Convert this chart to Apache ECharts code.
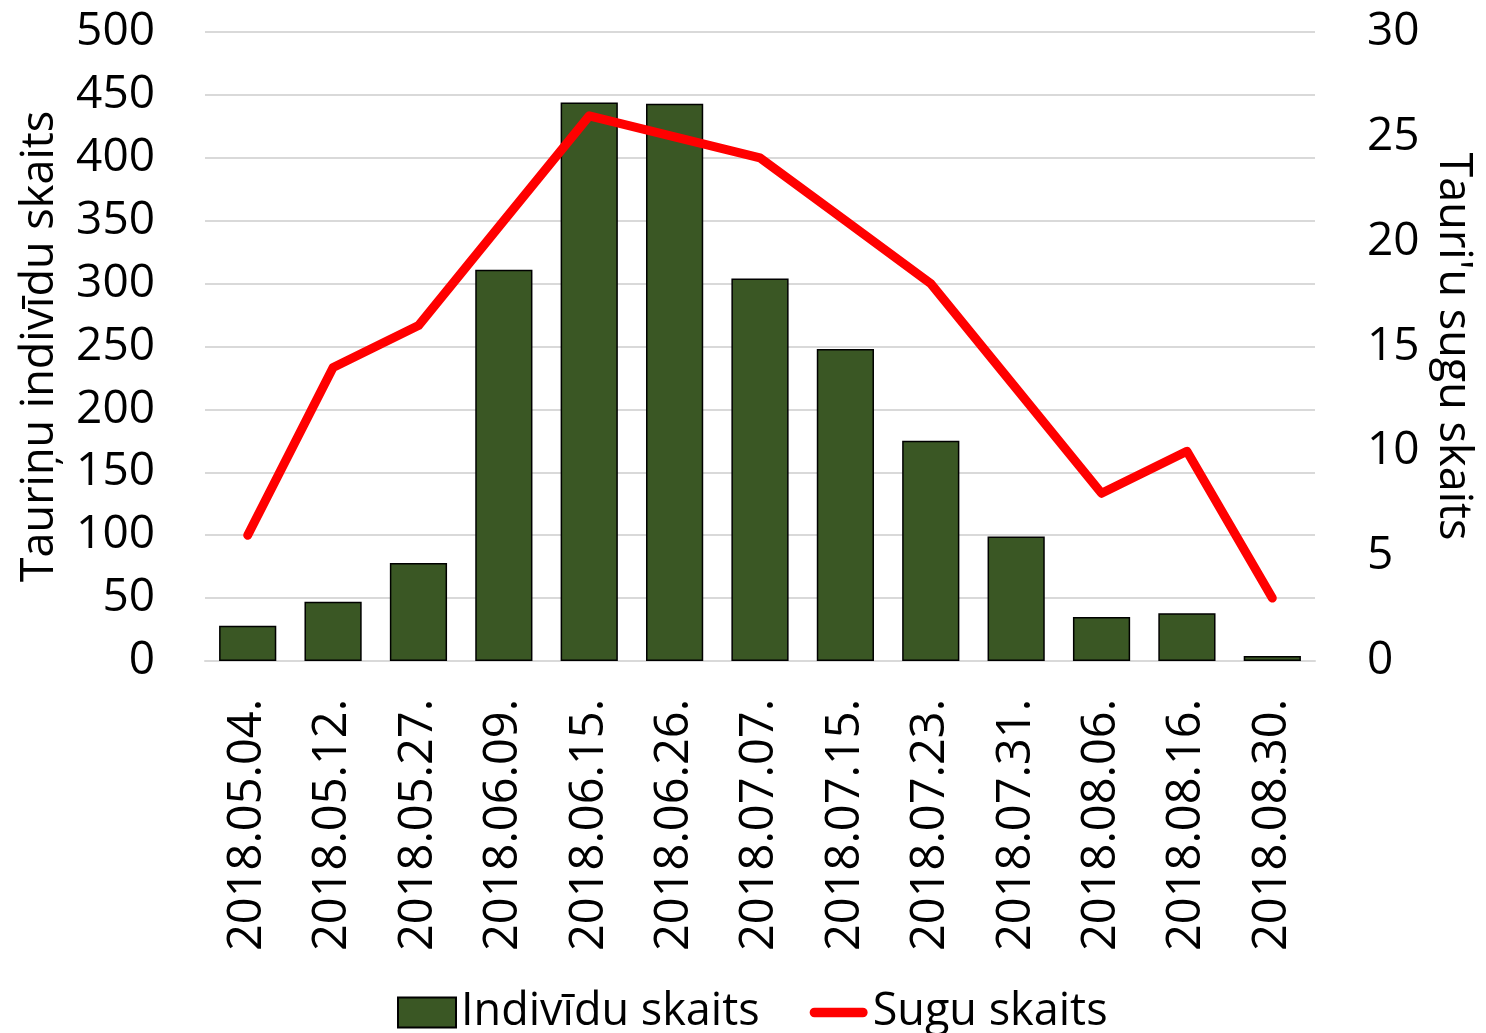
<!DOCTYPE html>
<html>
<head>
<meta charset="utf-8">
<script src="https://cdn.jsdelivr.net/npm/echarts@6/dist/echarts.min.js"></script>
<style>
html,body{margin:0;padding:0;background:#fff;}
#c{width:1486px;height:1033px;}
</style>
</head>
<body>
<div id="c"></div>
<script>
const categories = ['2018.05.04.','2018.05.12.','2018.05.27.','2018.06.09.','2018.06.15.','2018.06.26.','2018.07.07.','2018.07.15.','2018.07.23.','2018.07.31.','2018.08.06.','2018.08.16.','2018.08.30.'];
const individuals = [28, 47, 78, 311, 444, 443, 304, 248, 175, 99, 35, 38, 4];
const species = [6, 14, 16, 21, 26, 25, 24, 21, 18, 13, 8, 10, 3];
const leftTicks = {min: 0, max: 500, interval: 50};
const rightTicks = {min: 0, max: 30, interval: 5};

const FONT = "'Open Sans', 'Noto Sans', sans-serif";
const chart = echarts.init(document.getElementById('c'));
chart.setOption({
  animation: false,
  textStyle: {fontFamily: FONT},
  grid: {left: 205, right: 171, top: 32, bottom: 372},
  legend: {
    left: 392, top: 985,
    itemWidth: 58, itemHeight: 30, itemGap: 50,
    symbolKeepAspect: true,
    textStyle: {fontSize: 45, color: '#000', fontFamily: FONT},
    data: [
      {name: 'Indivīdu skaits', icon: 'rect'},
      {name: 'Sugu skaits', icon: 'path://M5,0 H55 A5,5 0 0 1 55,10 H5 A5,5 0 0 1 5,0 Z'}
    ]
  },
  xAxis: {
    type: 'category',
    data: categories,
    axisLine: {lineStyle: {color: '#d9d9d9', width: 2}},
    axisTick: {show: false},
    axisLabel: {rotate: 90, fontSize: 47, color: '#000', margin: 38, fontFamily: FONT}
  },
  yAxis: [
    {
      type: 'value', min: leftTicks.min, max: leftTicks.max, interval: leftTicks.interval,
      name: 'Tauriņu indivīdu skaits', nameLocation: 'middle', nameGap: 142, nameRotate: 90,
      nameTextStyle: {fontSize: 45, color: '#000', fontFamily: FONT},
      axisLine: {show: false}, axisTick: {show: false},
      axisLabel: {fontSize: 46, color: '#000', margin: 50, fontFamily: FONT},
      splitLine: {lineStyle: {color: '#d9d9d9', width: 2}}
    },
    {
      type: 'value', min: rightTicks.min, max: rightTicks.max, interval: rightTicks.interval,
      position: 'right',
      name: "Tauri'u sugu skaits", nameLocation: 'middle', nameGap: 115, nameRotate: -90,
      nameTextStyle: {fontSize: 45, color: '#000', fontFamily: FONT},
      axisLine: {show: false}, axisTick: {show: false},
      axisLabel: {fontSize: 46, color: '#000', margin: 52, fontFamily: FONT},
      splitLine: {show: false}
    }
  ],
  series: [
    {
      name: 'Indivīdu skaits', type: 'bar', yAxisIndex: 0, data: individuals,
      barCategoryGap: '33%',
      itemStyle: {color: '#3a5724', borderColor: '#000', borderWidth: 1.5}
    },
    {
      name: 'Sugu skaits', type: 'line', yAxisIndex: 1, data: species,
      symbol: 'none', showSymbol: false,
      lineStyle: {color: '#ff0000', width: 9, cap: 'round', join: 'round'},
      itemStyle: {color: '#ff0000'}
    }
  ]
});
</script>
</body>
</html>
